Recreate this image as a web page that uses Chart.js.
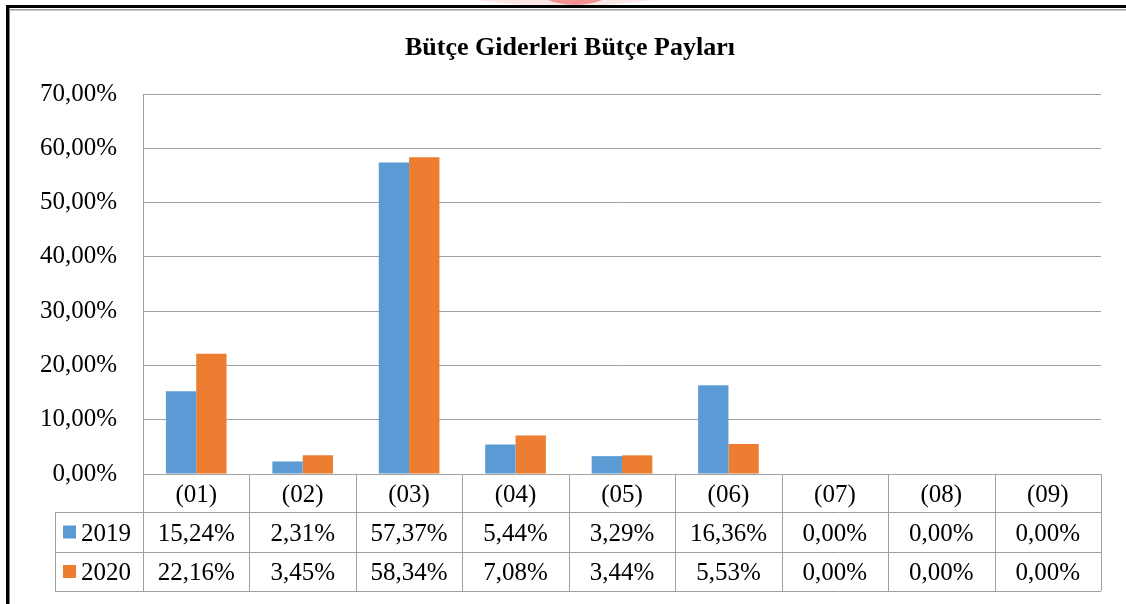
<!DOCTYPE html>
<html>
<head>
<meta charset="utf-8">
<script src="https://cdn.jsdelivr.net/npm/chart.js@4.4.0/dist/chart.umd.min.js"></script>
<style>
    body { margin: 0; background: #fff; }
    #wrap { width: 1126px; height: 604px; }
</style>
</head>
<body>
<div id="wrap"><canvas id="budget_chart" width="1126" height="604"></canvas></div>
<script>
// データ
const categories = ["(01)", "(02)", "(03)", "(04)", "(05)", "(06)", "(07)", "(08)", "(09)"];
const series2019 = [15.24, 2.31, 57.37, 5.44, 3.29, 16.36, 0, 0, 0];
const series2020 = [22.16, 3.45, 58.34, 7.08, 3.44, 5.53, 0, 0, 0];
const seriesNames = ["2019", "2020"];
const yTicks = [0, 10, 20, 30, 40, 50, 60, 70];
const chartTitle = "Bütçe Giderleri Bütçe Payları";

const BLUE_BAR = "#5b9bd5";
const ORANGE_BAR = "#ed7d31";
const GRID_COLOR = "#a0a0a0";
const FONT = "'Liberation Serif', 'Times New Roman', serif";

function fmt(v){
    return v.toFixed(2).replace('.', ',') + '%';
}

// 枠・タイトル・データテーブル
const tablePlugin = {
    id: 'tablePlugin',
    beforeDraw(chart){
        const ctx = chart.ctx;
        ctx.save();
        // 透かし（上部の薄い赤）
        ctx.fillStyle = 'rgba(240,140,140,0.2)';
        ctx.beginPath();
        ctx.ellipse(565, -30, 160, 36, 0, 0, Math.PI * 2);
        ctx.fill();
        ctx.fillStyle = 'rgba(235,60,60,0.5)';
        ctx.beginPath();
        ctx.ellipse(575, -14, 40, 19, 0, 0, Math.PI * 2);
        ctx.fill();
        ctx.restore();
    },
    afterDraw(chart){
        const ctx = chart.ctx;
        const x = chart.scales.x;
        const area = chart.chartArea;
        const colW = (area.right - area.left) / categories.length;
        const rowTops = [area.bottom, 512, 552, 591];
        const legendLeft = 55;

        ctx.save();
        // 外枠
        ctx.fillStyle = '#000';
        ctx.fillRect(6, 5, 1120, 3);
        ctx.fillRect(6, 5, 3.5, 599);
        ctx.fillStyle = '#9a9a9a';
        ctx.fillRect(9, 9, 1117, 1.5);

        // タイトル
        ctx.fillStyle = '#000';
        ctx.font = "bold 26px " + FONT;
        ctx.textAlign = 'center';
        ctx.textBaseline = 'middle';
        ctx.fillText(chartTitle, 570, 48);

        // テーブル線
        ctx.strokeStyle = GRID_COLOR;
        ctx.lineWidth = 1;
        ctx.beginPath();
        ctx.moveTo(area.left, rowTops[0] + 0.5);
        ctx.lineTo(area.right, rowTops[0] + 0.5);
        for (let r = 1; r < rowTops.length; r++) {
            ctx.moveTo(legendLeft, rowTops[r] + 0.5);
            ctx.lineTo(area.right, rowTops[r] + 0.5);
        }
        for (let i = 0; i <= categories.length; i++) {
            const lx = Math.round(area.left + colW * i) + 0.5;
            ctx.moveTo(lx, rowTops[0]);
            ctx.lineTo(lx, rowTops[3]);
        }
        ctx.moveTo(legendLeft + 0.5, rowTops[1]);
        ctx.lineTo(legendLeft + 0.5, rowTops[3]);
        ctx.stroke();

        // テキスト
        ctx.font = "25px " + FONT;
        ctx.fillStyle = '#000';
        ctx.textAlign = 'center';
        ctx.textBaseline = 'middle';
        const rows = [series2019, series2020];
        categories.forEach((c, i) => {
            const cx = x.getPixelForValue(i);
            ctx.fillText(c, cx, (rowTops[0] + rowTops[1]) / 2 + 2);
            rows.forEach((vals, r) => {
                ctx.fillText(fmt(vals[i]), cx, (rowTops[r + 1] + rowTops[r + 2]) / 2 + 2);
            });
        });

        // 凡例
        const colors = [BLUE_BAR, ORANGE_BAR];
        seriesNames.forEach((name, r) => {
            const cy = (rowTops[r + 1] + rowTops[r + 2]) / 2;
            ctx.fillStyle = colors[r];
            ctx.fillRect(63, cy - 6.5, 13, 13);
            ctx.fillStyle = '#000';
            ctx.textAlign = 'left';
            ctx.fillText(name, 81, cy + 2);
        });
        ctx.restore();
    }
};

new Chart(document.getElementById('budget_chart').getContext('2d'), {
    type: 'bar',
    data: {
        labels: categories,
        datasets: [{
                label: seriesNames[0],
                backgroundColor: BLUE_BAR,
                data: series2019
            },
            {
                label: seriesNames[1],
                backgroundColor: ORANGE_BAR,
                data: series2020
            }
        ]
    },
    plugins: [tablePlugin],
    options: {
        responsive: false,
        animation: false,
        layout: {
            padding: { left: 0, top: 94, right: 25, bottom: 130 }
        },
        datasets: {
            bar: { categoryPercentage: 0.57, barPercentage: 1.0 }
        },
        plugins: {
            legend: { display: false },
            title: { display: false },
            tooltip: { enabled: false }
        },
        scales: {
            x: {
                display: false
            },
            y: {
                min: 0,
                max: 70,
                afterFit: function(scale){ scale.width = 143; },
                afterBuildTicks: function(scale){
                    scale.ticks = yTicks.map(v => ({ value: v }));
                },
                grid: {
                    color: GRID_COLOR,
                    lineWidth: 1,
                    drawTicks: false
                },
                border: { display: true, color: GRID_COLOR },
                ticks: {
                    padding: 26,
                    color: '#000',
                    font: { family: FONT, size: 25 },
                    callback: function(v){ return fmt(v); }
                }
            }
        }
    }
});
</script>
</body>
</html>
